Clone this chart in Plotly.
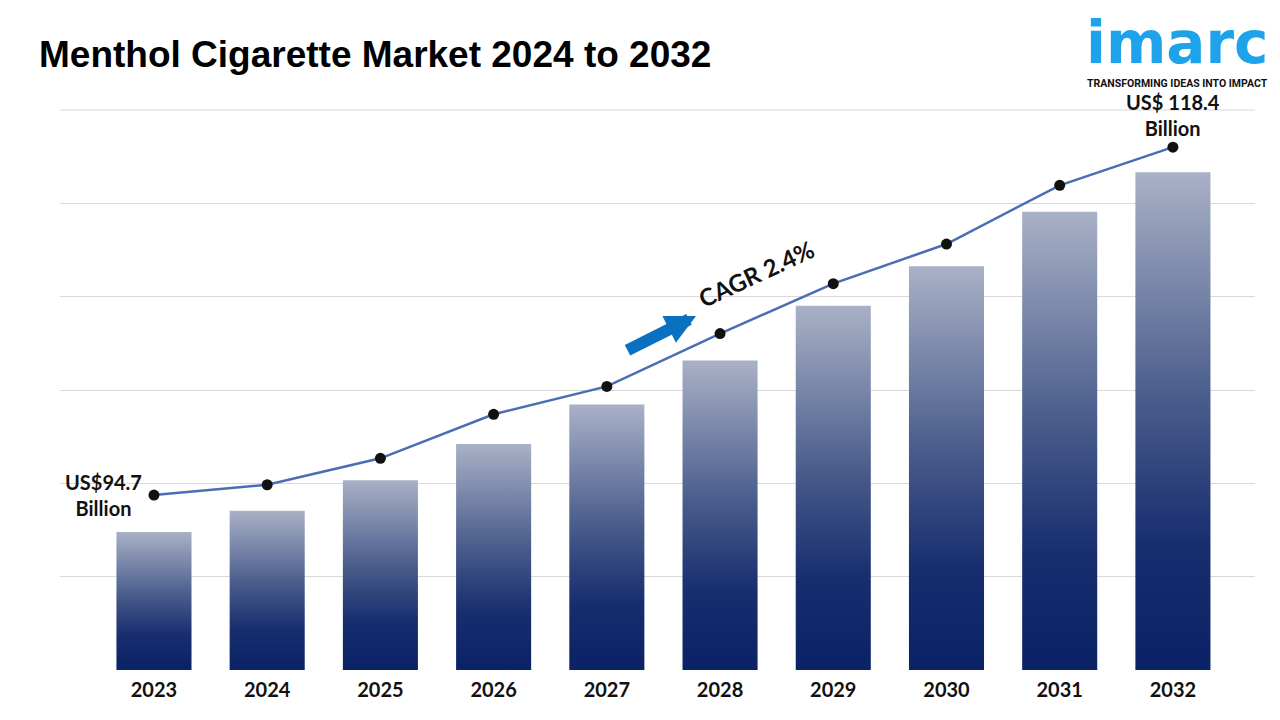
import plotly.graph_objects as go

# ---- data ----
years = ["2023", "2024", "2025", "2026", "2027", "2028", "2029", "2030", "2031", "2032"]
bar_values = [94.7, 96.1, 98.1, 100.5, 103.1, 106.0, 109.6, 112.2, 115.8, 118.4]   # US$ Billion (bar heights)
line_values = [94.7, 95.4, 97.2, 100.2, 102.1, 105.7, 109.1, 111.8, 115.8, 118.4]  # US$ Billion (trend line)
start_label = "US$94.7<br>Billion"
end_label = "US$ 118.4<br>Billion"
cagr_label = "CAGR 2.4%"
title_text = "Menthol Cigarette Market 2024 to 2032"

# ---- styling ----
OFF = 8  # default page body margin
W, H = 1280 - OFF, 720 - OFF
ML, MR, MT, MB = 60 - OFF, 25, 110 - OFF, 50
BAR_W = 0.663
BAR_BASE = 85.6
BAR_TOP = 122.5
LINE_RANGE = [82.78, 120.93]
LABEL_FONT = "Lato"
GRID = "#d9d9d9"
bar_scale = [[0.0, "#0a2266"], [0.25, "#172d6e"], [0.55, "#4a5d8c"], [1.0, "#a9b1c6"]]

fig = go.Figure()

xs = list(range(len(years)))
for i, v in zip(xs, bar_values):
    fig.add_trace(go.Scatter(
        x=[i - BAR_W / 2, i + BAR_W / 2, i + BAR_W / 2, i - BAR_W / 2, i - BAR_W / 2],
        y=[BAR_BASE, BAR_BASE, v, v, BAR_BASE],
        mode="lines", line=dict(width=0), fill="toself",
        fillgradient=dict(type="vertical", colorscale=bar_scale),
        hoverinfo="skip", showlegend=False,
    ))

fig.add_trace(go.Scatter(
    x=xs, y=line_values, yaxis="y2", mode="lines+markers",
    line=dict(color="#4a6db3", width=2.5),
    marker=dict(color="#111111", size=11),
    showlegend=False,
))

plot_w = W - ML - MR
plot_h = H - MT - MB
# page pixel -> paper coords
def px_x(p):
    return (p - OFF - ML) / plot_w
def px_y(p):
    return (H - MB - (p - OFF)) / plot_h

annotations = [
    dict(text=f"<b>{title_text}</b>", xref="paper", yref="paper", x=px_x(37), y=px_y(55),
         xanchor="left", yanchor="middle", showarrow=False,
         font=dict(family="Liberation Sans, Arial", size=37, color="#000000")),
    dict(text="<b>imarc</b>", xref="paper", yref="paper", x=px_x(1177), y=px_y(43),
         xanchor="center", yanchor="middle", showarrow=False,
         font=dict(family="DejaVu Sans", size=58, color="#1ea3ea")),
    dict(text="<b>TRANSFORMING IDEAS INTO IMPACT</b>", xref="paper", yref="paper",
         x=px_x(1177), y=px_y(84), xanchor="center", yanchor="middle", showarrow=False,
         font=dict(family="Roboto", size=10.5, color="#111111")),
    dict(text=f"<b>{start_label}</b>", xref="x", yref="y2", x=0, y=line_values[0],
         xanchor="right", yanchor="middle", xshift=-10, showarrow=False, align="center",
         font=dict(family=LABEL_FONT, size=20, color="#111111")),
    dict(text=f"<b>{end_label}</b>", xref="x", yref="y2", x=len(years) - 1, y=line_values[-1],
         xanchor="center", yanchor="bottom", yshift=5, showarrow=False, align="center",
         font=dict(family=LABEL_FONT, size=20, color="#111111")),
    dict(text=f"<b>{cagr_label}</b>", xref="paper", yref="paper", x=px_x(756), y=px_y(273),
         xanchor="center", yanchor="middle", textangle=-25, showarrow=False,
         font=dict(family=LABEL_FONT, size=24, color="#111111")),
    dict(text="", xref="paper", yref="paper", x=px_x(696), y=px_y(316),
         ax=-70, ay=35, showarrow=True, arrowhead=2, arrowsize=0.5, arrowwidth=12,
         arrowcolor="#0a70c0"),
]

fig.update_layout(
    width=W, height=H,
    margin=dict(l=ML, r=MR, t=MT, b=MB),
    paper_bgcolor="white", plot_bgcolor="white",
    xaxis=dict(range=[-0.83, 9.725], tickmode="array", tickvals=xs,
               ticktext=[f"<b>{y}</b>" for y in years],
               showgrid=False, zeroline=False, showline=False, ticks="",
               tickfont=dict(family=LABEL_FONT, size=20, color="#111111"),
               ticklabelstandoff=6),
    yaxis=dict(range=[BAR_BASE, BAR_TOP], tick0=BAR_BASE, dtick=(122.49 - BAR_BASE) / 6,
               showgrid=True, gridcolor=GRID, gridwidth=1, zeroline=False,
               showticklabels=False, ticks=""),
    yaxis2=dict(range=LINE_RANGE, overlaying="y", showgrid=False, zeroline=False,
                showticklabels=False, ticks="", visible=False),
    shapes=[dict(type="line", xref="paper", yref="paper", x0=0, x1=1, y0=1, y1=1,
                 line=dict(color=GRID, width=1), layer="below")],
    annotations=annotations,
    showlegend=False,
)

fig.write_html("out.html")
